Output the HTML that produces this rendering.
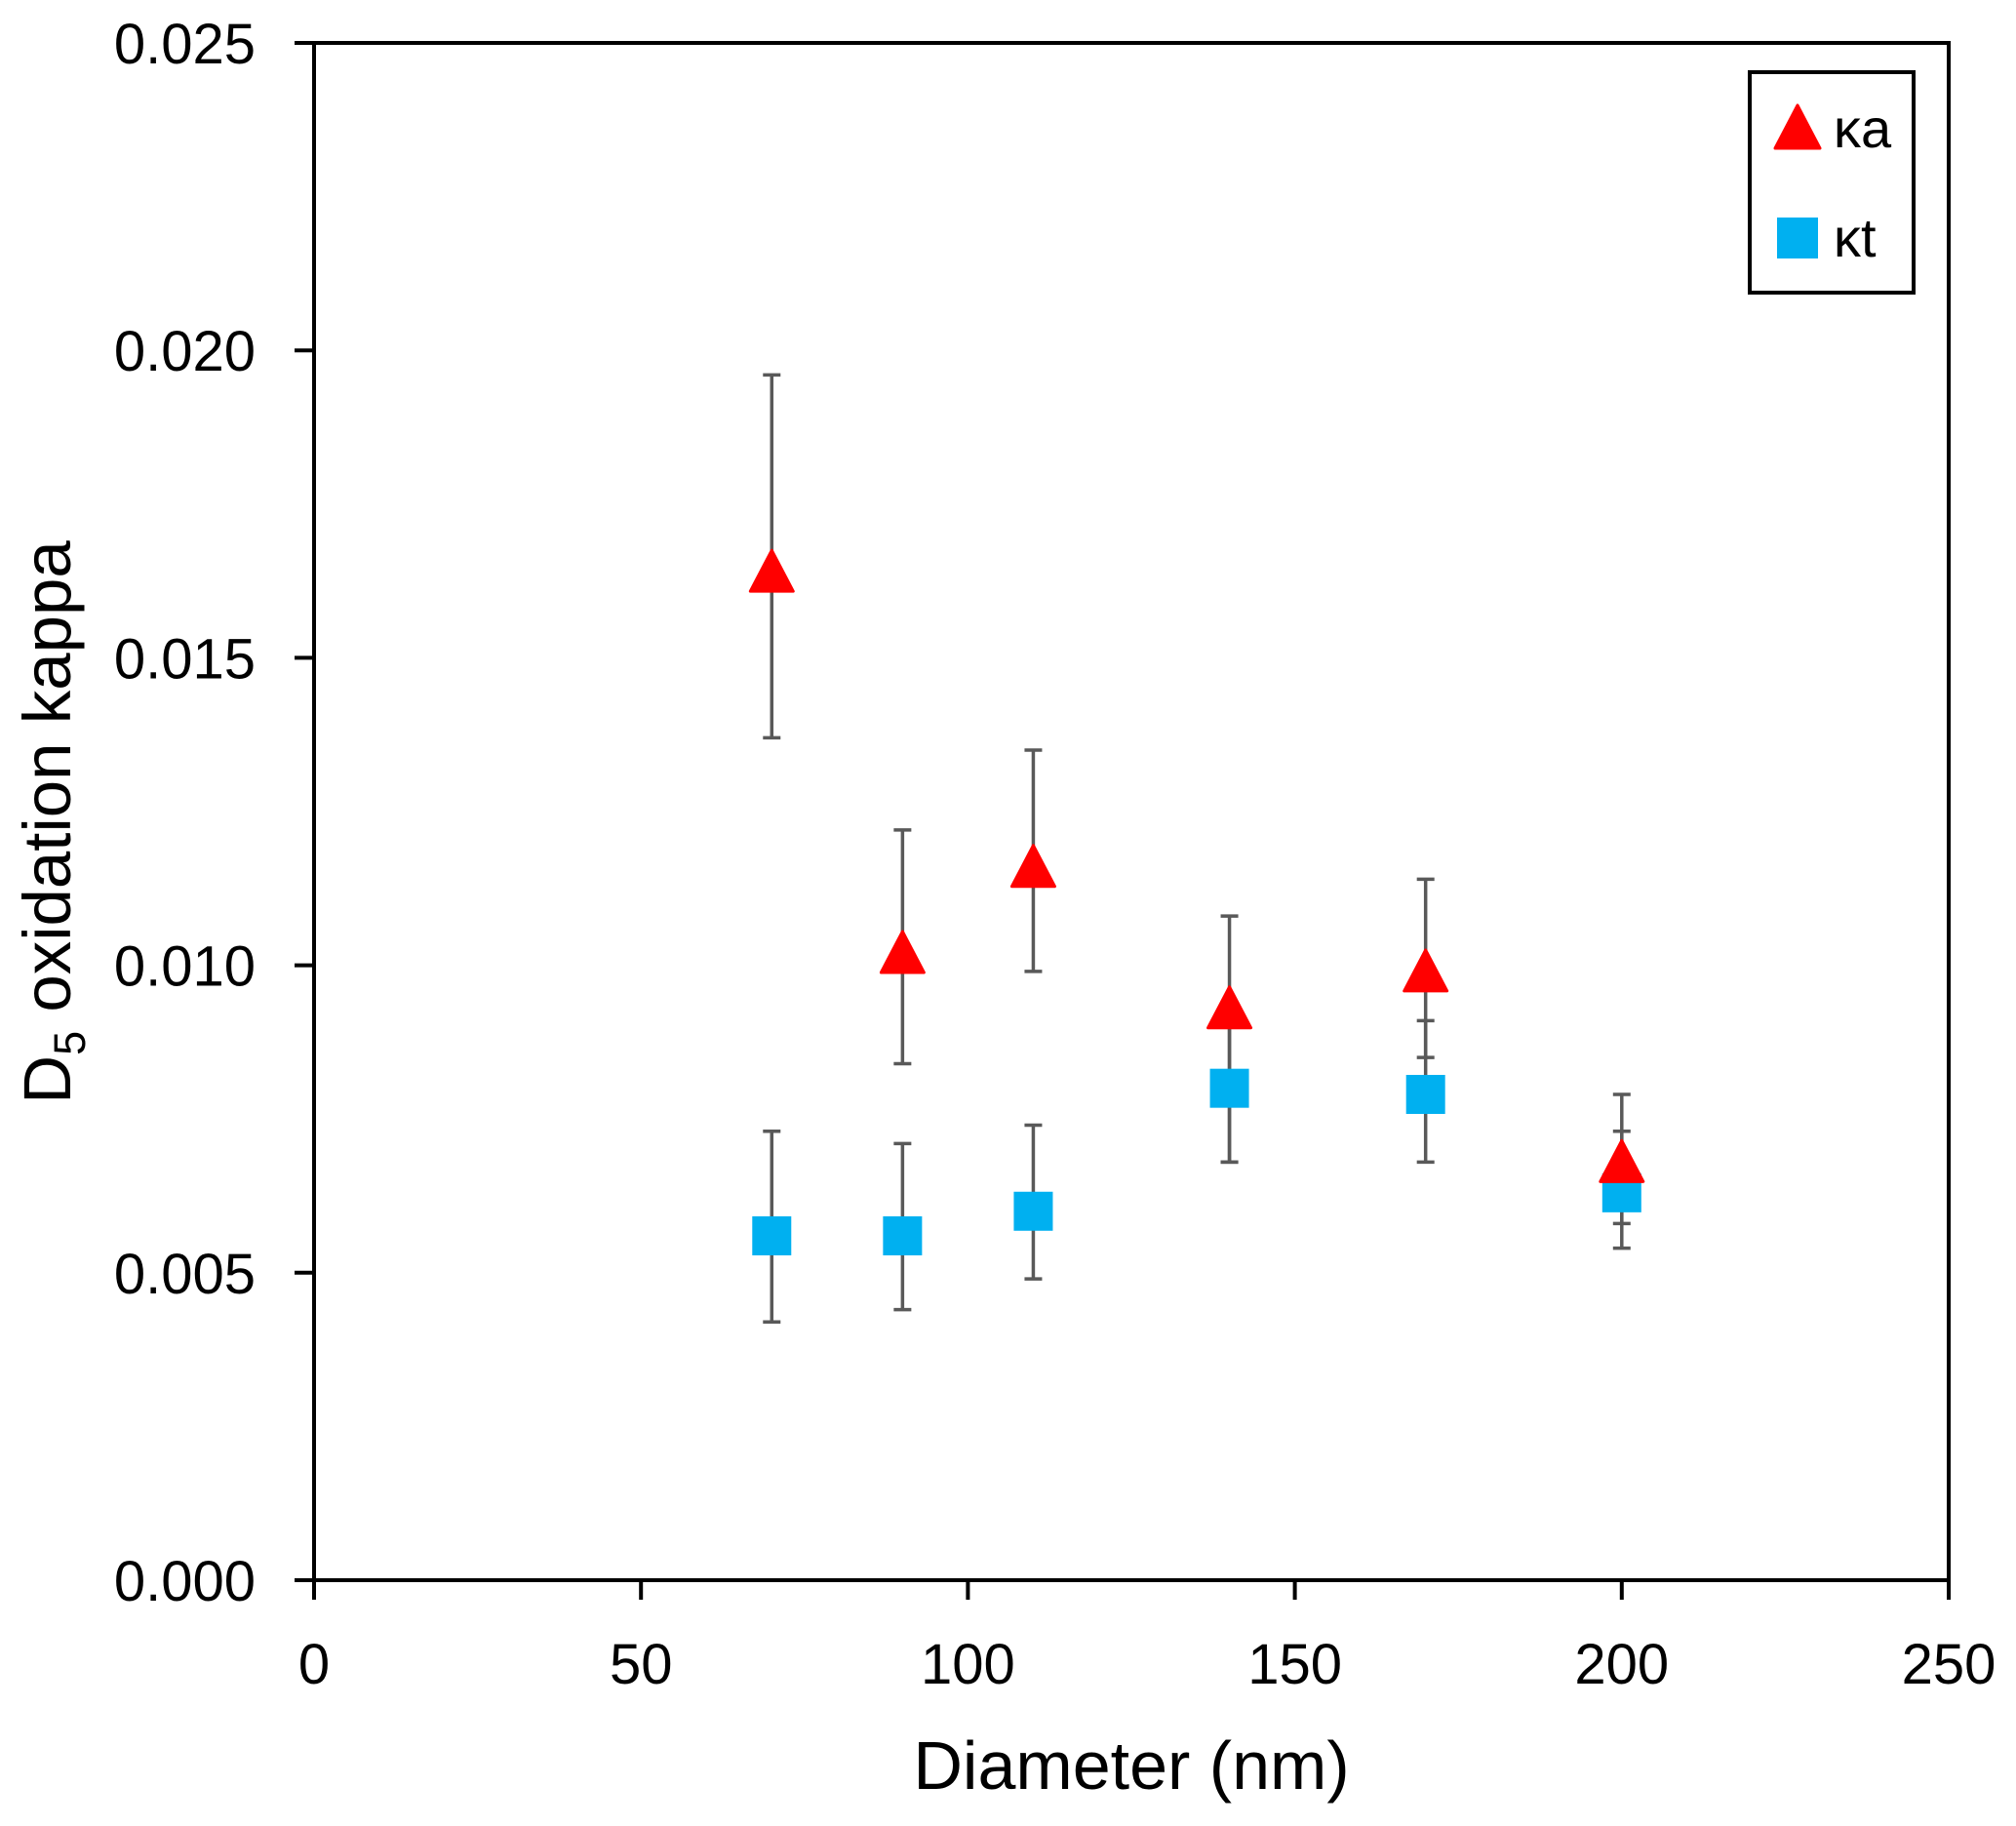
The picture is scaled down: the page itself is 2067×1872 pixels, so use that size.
<!DOCTYPE html>
<html><head><meta charset="utf-8"><style>
body{margin:0;background:#fff}
svg text{font-family:"Liberation Sans",sans-serif;fill:#000}
</style></head><body>
<svg id="chart" width="2067" height="1867" viewBox="0 0 2067 1867" xmlns="http://www.w3.org/2000/svg">
<rect x="0" y="0" width="2067" height="1867" fill="#fff"/>
<rect x="322" y="44" width="1676" height="1576" fill="none" stroke="#000" stroke-width="4"/>
<g id="axes"></g>
<g id="errs"></g>
<g id="marks"></g>
<text x="1160" y="1834" font-size="70" text-anchor="middle">Diameter (nm)</text>
<text transform="translate(72,843) rotate(-90)" font-size="69" text-anchor="middle">D<tspan font-size="45" dy="15">5</tspan><tspan dy="-15"> oxidation kappa</tspan></text>
<g>
<rect x="1794" y="74" width="168" height="226" fill="#fff" stroke="#000" stroke-width="4"/>
<path d="M1843,108 L1866,152 L1820,152 Z" fill="#ff0000" stroke="#ff0000" stroke-width="3" stroke-linejoin="round"/>
<text x="1880" y="151" font-size="56">κa</text>
<rect x="1822" y="223" width="42" height="42" fill="#00b0f0"/>
<text x="1880" y="263" font-size="56">κt</text>
</g>
</svg>
<script>
const diameters=[70,90,110,140,170,200];
const kaValues=[0.0164,0.0102,0.0116,0.0093,0.0099,0.0068];
const kaLow=[0.0137,0.0084,0.0099,0.0068,0.0085,0.0058];
const kaHigh=[0.0196,0.0122,0.0135,0.0108,0.0114,0.0079];
const ktValues=[0.0056,0.0056,0.0060,0.0080,0.0079,0.0063];
const ktLow=[0.0042,0.0044,0.0049,0.0068,0.0068,0.0054];
const ktHigh=[0.0073,0.0071,0.0074,0.0091,0.0091,0.0073];
const xTicks=[0,50,100,150,200,250];
const yTicks=[0,0.005,0.010,0.015,0.020,0.025];
const yTickLabels=["0.000","0.005","0.010","0.015","0.020","0.025"];

const L=322,R=1998,T=44,B=1620;
const xs=v=>L+(v/250)*(R-L);
const ys=v=>B-(v/0.025)*(B-T);
const NS="http://www.w3.org/2000/svg";
function mk(tag,attrs,parent){const e=document.createElementNS(NS,tag);for(const k in attrs)e.setAttribute(k,attrs[k]);parent.appendChild(e);return e;}
const axes=document.getElementById('axes'),errs=document.getElementById('errs'),marks=document.getElementById('marks');
xTicks.forEach(t=>{
  const x=xs(t);
  const l=mk('line',{x1:x,x2:x,y1:B,y2:B+20,stroke:'#000','stroke-width':4},axes);
  
  
  const tx=mk('text',{x:x,y:1726,'font-size':58,'text-anchor':'middle'},axes);
  tx.textContent=t;
  
  
});
yTicks.forEach((t,i)=>{
  const y=ys(t);
  const l=mk('line',{x1:L-20,x2:L,y1:y,y2:y,stroke:'#000','stroke-width':4},axes);
  
  
  const tx=mk('text',{x:262,y:y+21,'font-size':58,'text-anchor':'end'},axes);
  tx.textContent=yTickLabels[i];
  
  
});
function errBar(x,lo,hi,name){
  const g=mk('g',{stroke:'#595959','stroke-width':3.5},errs);
  
  
  mk('line',{x1:x,x2:x,y1:ys(lo),y2:ys(hi)},g);
  mk('line',{x1:x-9,x2:x+9,y1:ys(lo),y2:ys(lo)},g);
  mk('line',{x1:x-9,x2:x+9,y1:ys(hi),y2:ys(hi)},g);
}
diameters.forEach((d,i)=>{
  const x=xs(d);
  errBar(x,kaLow[i],kaHigh[i],'error-bar-ka');
  errBar(x,ktLow[i],ktHigh[i],'error-bar-kt');
});
diameters.forEach((d,i)=>{
  const x=xs(d),y=ys(ktValues[i]);
  const r=mk('rect',{x:x-20,y:y-20,width:40,height:40,fill:'#00b0f0'},marks);
  
  
});
diameters.forEach((d,i)=>{
  const x=xs(d),y=ys(kaValues[i]);
  const p=mk('path',{d:`M${x},${y-22} L${x+22},${y+20} L${x-22},${y+20} Z`,fill:'#ff0000',stroke:'#ff0000','stroke-width':3,'stroke-linejoin':'round'},marks);
  
  
});
</script>
</body></html>
